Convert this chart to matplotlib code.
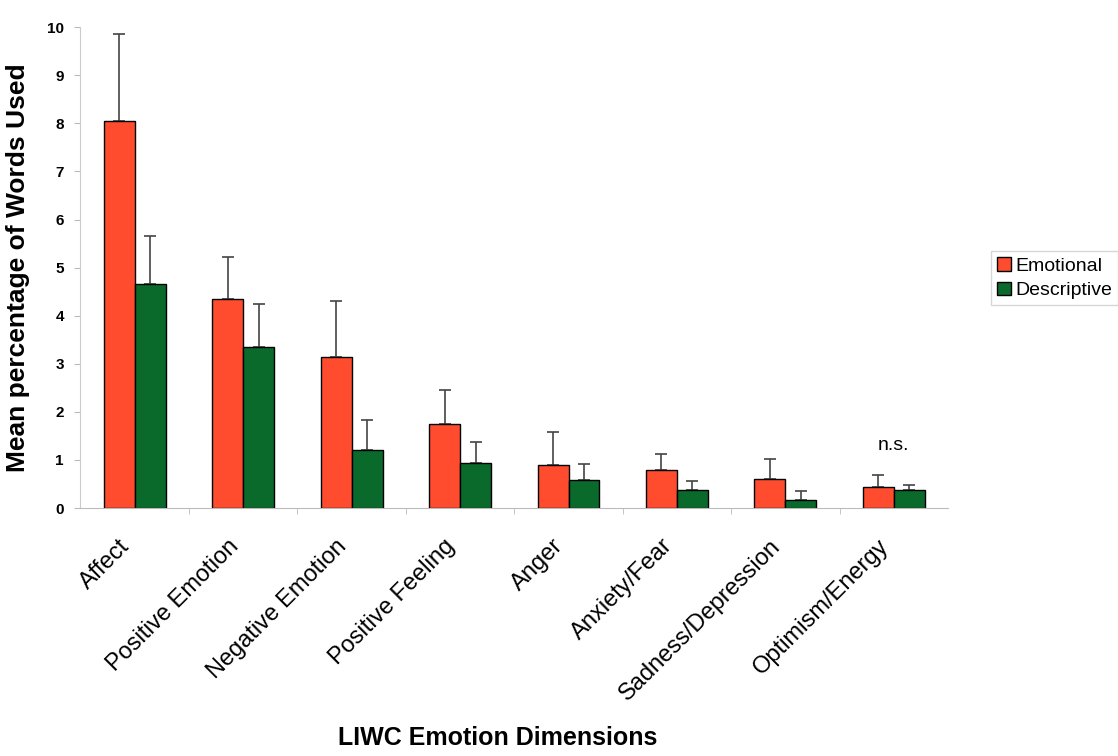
import matplotlib
matplotlib.use('Agg')
import matplotlib.pyplot as plt
import matplotlib.transforms as mtransforms
import numpy as np

plt.rcParams['font.family'] = ['Liberation Sans', 'DejaVu Sans']

categories = ['Affect', 'Positive Emotion', 'Negative Emotion', 'Positive Feeling',
              'Anger', 'Anxiety/Fear', 'Sadness/Depression', 'Optimism/Energy']
emotional = [8.05, 4.35, 3.14, 1.75, 0.90, 0.79, 0.60, 0.44]
emotional_err = [1.80, 0.88, 1.16, 0.71, 0.68, 0.33, 0.42, 0.25]
descriptive = [4.65, 3.35, 1.21, 0.94, 0.58, 0.37, 0.17, 0.37]
descriptive_err = [1.00, 0.90, 0.62, 0.43, 0.34, 0.19, 0.18, 0.11]

red = '#ff4b2e'
green = '#0a6a2c'

fig = plt.figure(figsize=(11.18, 7.56), dpi=100)
ax = fig.add_axes([0.072, 0.328, 0.776, 0.636])

x = np.arange(len(categories))
w = 0.285
ax.bar(x - w / 2, emotional, w, color=red, edgecolor='black', linewidth=1.0,
       label='Emotional', zorder=2)
ax.bar(x + w / 2, descriptive, w, color=green, edgecolor='black', linewidth=1.0,
       label='Descriptive', zorder=2)
ax.errorbar(x - w / 2, emotional, yerr=[np.zeros(len(x)), emotional_err], fmt='none',
            ecolor='#444444', elinewidth=1.2, capsize=4, capthick=1.2, zorder=1)
ax.errorbar(x + w / 2, descriptive, yerr=[np.zeros(len(x)), descriptive_err], fmt='none',
            ecolor='#444444', elinewidth=1.2, capsize=4, capthick=1.2, zorder=1)

ax.text(x[-1], 1.12, 'n.s.', ha='center', va='bottom', fontsize=14)

ax.set_xlim(-0.5, len(categories) - 0.5)
ax.set_ylim(0, 10)
ax.set_yticks(range(0, 11))
ax.set_yticklabels([str(i) for i in range(0, 11)], fontsize=11, fontweight='bold')
ax.set_xticks(x)
ax.set_xticklabels(categories, rotation=45, ha='right', rotation_mode='anchor',
                   fontsize=17)
ax.tick_params(axis='x', length=0, pad=10)
ax.set_xticks(np.arange(0.5, len(categories) - 0.5, 1), minor=True)
ax.tick_params(axis='x', which='minor', length=4, color='#bbbbbb')
ax.tick_params(axis='y', length=4, color='#bbbbbb', pad=8)

# shift the rotated labels down/left a bit
offset = mtransforms.ScaledTranslation(-0.16, -0.13, fig.dpi_scale_trans)
for lbl in ax.get_xticklabels():
    lbl.set_transform(lbl.get_transform() + offset)

for s in ['top', 'right']:
    ax.spines[s].set_visible(False)
ax.spines['left'].set_color('#cccccc')
ax.spines['bottom'].set_color('#bbbbbb')

ax.set_ylabel('Mean percentage of Words Used', fontsize=19, fontweight='bold', labelpad=12)
fig.text(0.445, 0.008, 'LIWC Emotion Dimensions', ha='center', va='bottom',
         fontsize=18, fontweight='bold')

leg = ax.legend(loc='center left', bbox_to_anchor=(1.05, 0.478), fontsize=14,
                frameon=True, fancybox=False, edgecolor='#cccccc',
                handlelength=0.7, handleheight=0.7, handletextpad=0.25,
                borderpad=0.3, labelspacing=0.35, borderaxespad=0)

fig.savefig('out.png', dpi=100)
